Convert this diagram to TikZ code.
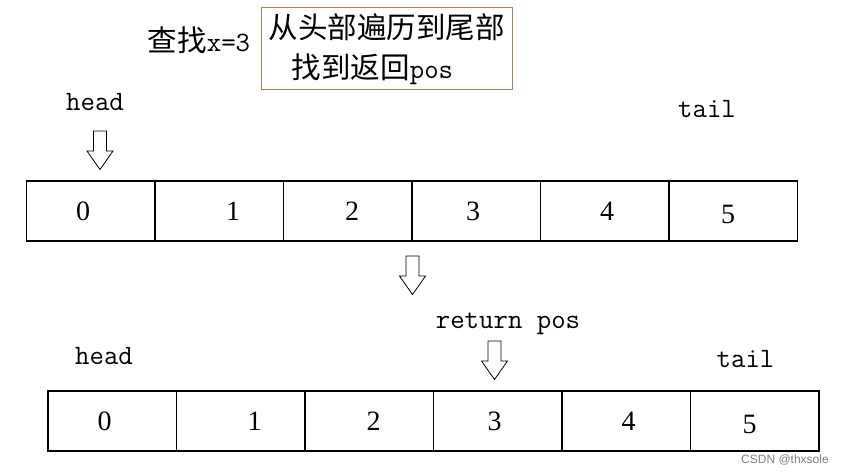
\documentclass[tikz,border=0pt]{standalone}
\usepackage{fontspec}
\usepackage{xcolor}
\usetikzlibrary{calc}
\newfontfamily\cjk{Noto Sans CJK SC}
\newfontfamily\digitfont{Liberation Serif}
\setsansfont{Liberation Sans}
\definecolor{boxbrown}{RGB}{185,122,87}
\newcommand\cjkbig{\cjk\fontsize{29.5}{32}\selectfont}

\tikzset{
  cell/.style={draw, line width=1.2pt, minimum width=128.5pt, minimum height=60pt, inner sep=0pt},
  digit/.style={font=\digitfont\fontsize{28}{30}\selectfont, inner sep=0pt},
  word/.style={font=\fontsize{28}{30}\selectfont\ttfamily, inner sep=0pt},
  hollowdown/.pic={
    \draw[line width=0.8pt] (-6.5,0) -- (6.5,0) -- (6.5,20) -- (13,20) -- (0,38.5)
      -- (-13,20) -- (-6.5,20) -- cycle;
  }
}

\begin{document}
\begin{tikzpicture}[x=1pt, y=-1pt]
    \useasboundingbox (0,0) rectangle (844,475);
    % top title and note box
    \node[word] (find) at (199,40) {{\cjkbig 查找}x=3};
    \node[draw=boxbrown, line width=1pt, minimum width=250.5pt, minimum height=82pt] (note) at (387,48.3) {};
    \node[word] (noteone) at (386.5,27) {\cjkbig 从头部遍历到尾部};
    \node[word] (notetwo) at (372.5,69) {{\cjkbig 找到返回}pos};
    % first array
    \node[word] (heada) at (95,102) {head};
    \node[word] (taila) at (707,109) {tail};
    \foreach \i/\dx/\dy in {0/-7.75/0, 1/13.75/0, 2/4.25/0, 3/-3.25/0, 4/2.25/0, 5/-5.25/3}{
        \node[cell] (a\i) at (90.75+128.5*\i,211) {};
        \node[digit] (da\i) at ($(a\i)+(\dx,\dy)$) {\i};
    }
    \pic at (100,131) {hollowdown};
    \pic at (412.5,256) {hollowdown};
    % second array
    \node[word] (ret) at (508,324) {return pos};
    \node[word] (headb) at (104,356) {head};
    \node[word] (tailb) at (745.5,359) {tail};
    \foreach \i/\dx/\dy in {0/-7.75/0, 1/13.75/0, 2/4.25/0, 3/-3.25/0, 4/2.25/0, 5/-5.25/3}{
        \node[cell] (b\i) at (112.25+128.5*\i,421) {};
        \node[digit] (db\i) at ($(b\i)+(\dx,\dy)$) {\i};
    }
    \pic at (494.5,341) {hollowdown};
    \node[font=\sffamily\fontsize{12}{13}\selectfont, text=gray] (mark) at (785,460) {CSDN @thxsole};
\end{tikzpicture}
\end{document}
